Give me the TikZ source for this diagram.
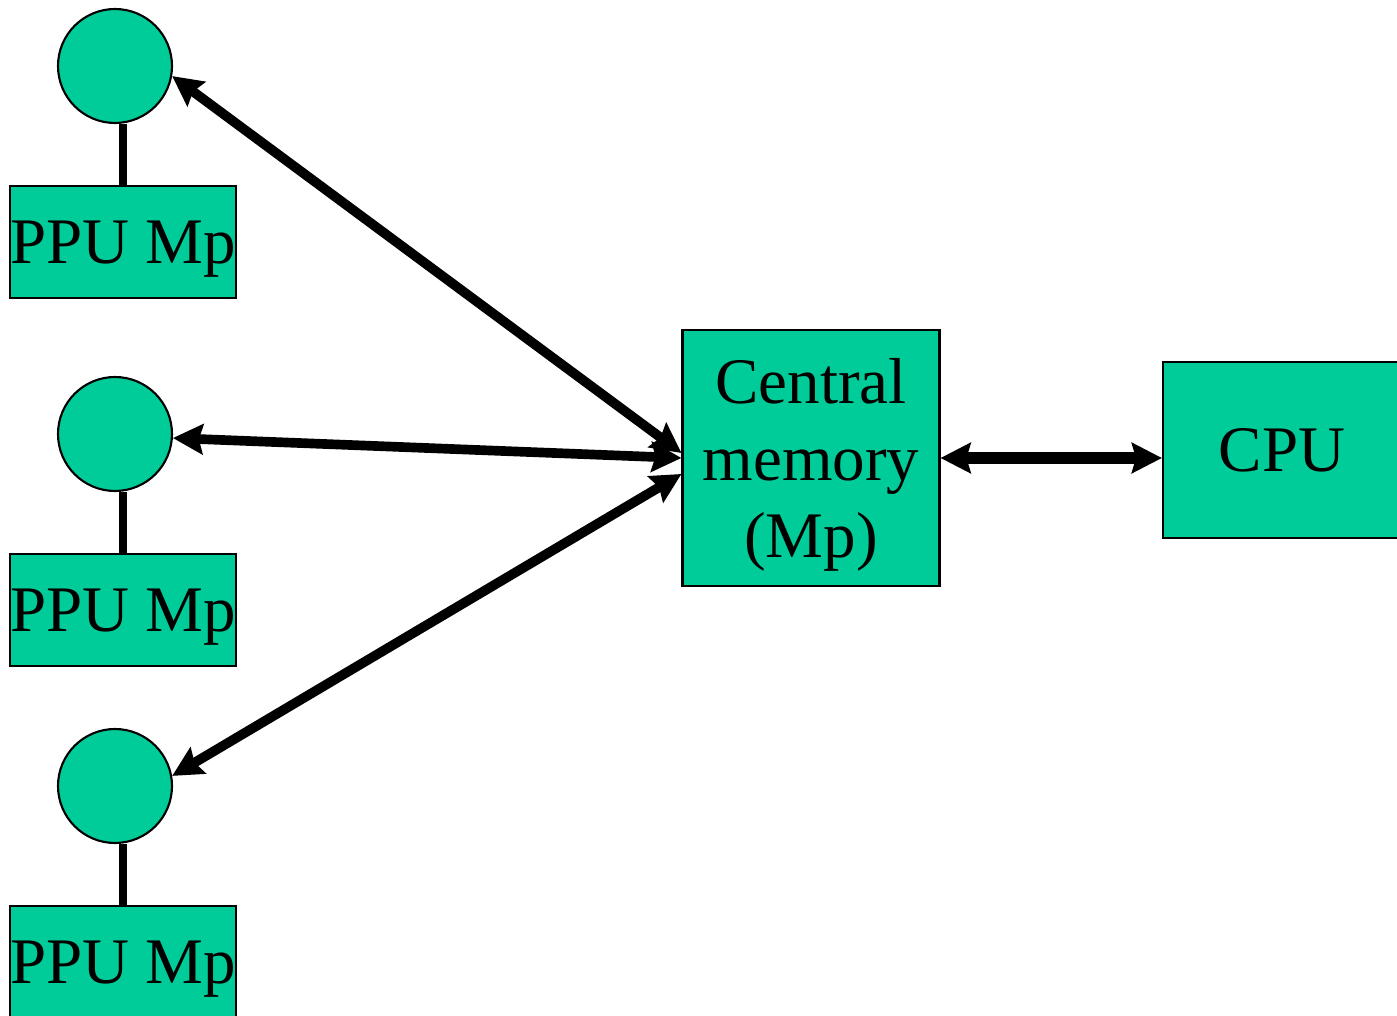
\documentclass[tikz,border=0pt]{standalone}
\usepackage{fontspec}
\setmainfont{Liberation Serif}
\usetikzlibrary{arrows.meta}
\definecolor{ppugreen}{HTML}{00CC99}

\begin{document}
\begin{tikzpicture}[x=0.02cm, y=-0.02cm,
	every node/.style={font=\fontsize{37}{44}\selectfont},
	box/.style={draw, line width=1.2pt, fill=ppugreen, inner sep=0pt, text depth=0pt},
	unit/.style={circle, draw, line width=1.2pt, fill=ppugreen, minimum size=2.28cm, inner sep=0pt},
	stem/.style={line width=4.5pt},
	link/.style={line width=5.5pt, {Stealth[length=0.6cm, width=0.6cm, inset=0.08cm]}-{Stealth[length=0.6cm, width=0.6cm, inset=0.08cm]}}]
	\useasboundingbox (0,0) rectangle (1397,1016);
	% peripheral processors
	\node[unit] (ppuA) at (115,66) {};
	\node[unit] (ppuB) at (115,434) {};
	\node[unit] (ppuC) at (115,786) {};
	\node[box, minimum width=4.5cm, minimum height=2.24cm] (memA) at (123,242) {PPU Mp};
	\node[box, minimum width=4.5cm, minimum height=2.24cm] (memB) at (123,610) {PPU Mp};
	\node[box, minimum width=4.5cm, minimum height=2.24cm] (memC) at (123,962) {PPU Mp};
	\draw[stem] (memA.north) -- (memA.north |- ppuA.south);
	\draw[stem] (memB.north) -- (memB.north |- ppuB.south);
	\draw[stem] (memC.north) -- (memC.north |- ppuC.south);
	% central part
	\node[box, minimum width=5.14cm, minimum height=5.12cm, align=center] (cm) at (811,458) {Central\\memory\\(Mp)};
	\node[box, minimum width=4.76cm, minimum height=3.52cm] (cpu) at (1282,450) {CPU};
	\draw[link] (ppuA.-10) -- ([yshift=0.1cm]cm.west);
	\draw[link] (ppuB.-4) -- (cm.west);
	\draw[link] (ppuC.10) -- ([yshift=-0.32cm]cm.west);
	\draw[link, line width=7pt] (cm.east) -- (cm.east -| cpu.west);
\end{tikzpicture}
\end{document}
